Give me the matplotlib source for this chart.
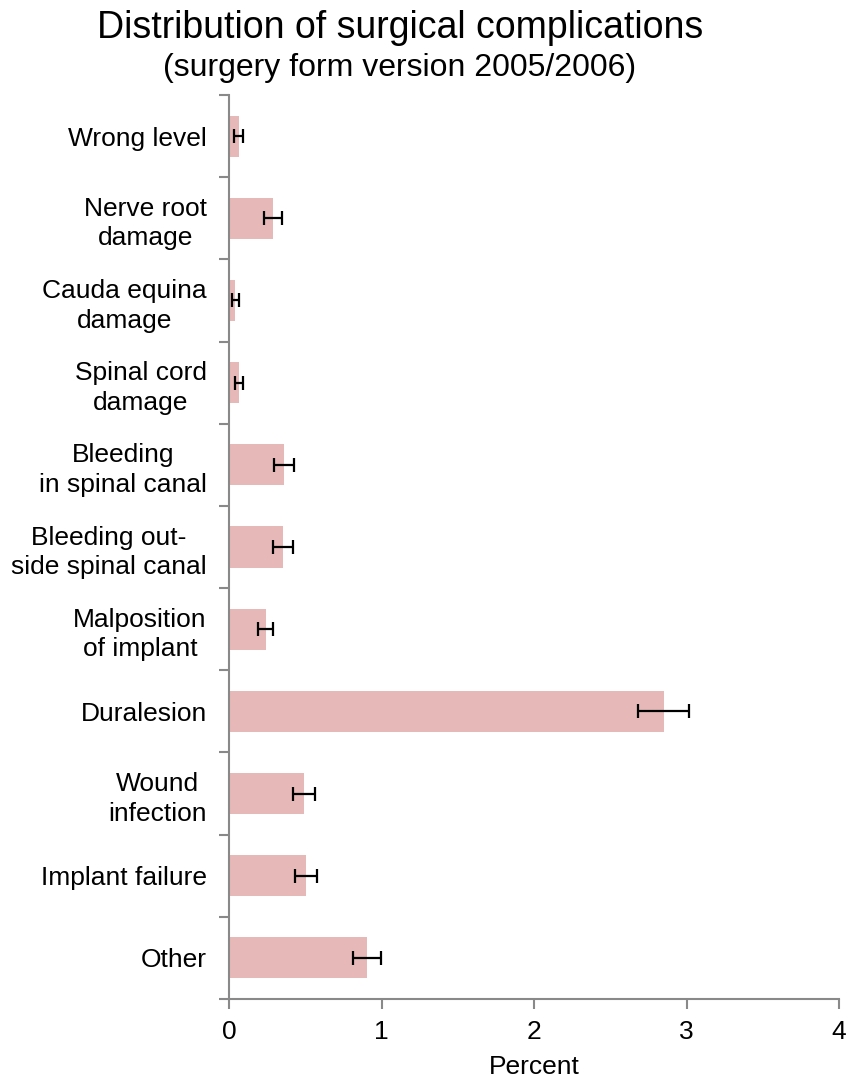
import matplotlib.pyplot as plt
import numpy as np

plt.rcParams['font.family'] = ['Liberation Sans', 'DejaVu Sans']

categories = ['Wrong level', 'Nerve root\ndamage', 'Cauda equina\ndamage', 'Spinal cord\ndamage',
              'Bleeding\nin spinal canal', 'Bleeding out-\nside spinal canal', 'Malposition\nof implant',
              'Duralesion', 'Wound\ninfection', 'Implant failure', 'Other']
percent = [0.065, 0.29, 0.042, 0.064, 0.36, 0.353, 0.24, 2.85, 0.49, 0.505, 0.905]
err = [0.03, 0.058, 0.024, 0.027, 0.065, 0.065, 0.048, 0.165, 0.073, 0.072, 0.093]

fig = plt.figure(figsize=(8.46, 10.84), dpi=100)
ax = fig.add_axes([229/846, 1 - 999/1084, 610/846, 904/1084])

pos = np.arange(len(categories))
ax.barh(pos, percent, height=0.5, color='#e6b9b8')
ax.errorbar(percent, pos, xerr=err, fmt='none', ecolor='black', elinewidth=1.6, capsize=5, capthick=1.6)

ax.set_xlim(0, 4)
ax.set_ylim(len(categories) - 0.5, -0.5)
ax.set_xticks([0, 1, 2, 3, 4])
ax.set_yticks(pos)
ax.set_yticklabels(categories, fontsize=19, ha='right', multialignment='center', linespacing=1.3)
ax.set_yticks(np.arange(len(categories) + 1) - 0.5, minor=True)
ax.tick_params(axis='y', which='major', length=0, pad=16)
ax.tick_params(axis='y', which='minor', length=7, width=1.5, color='#898989')
ax.tick_params(axis='x', labelsize=19, length=7, width=1.5, color='#898989', pad=8)

for s in ['top', 'right']:
    ax.spines[s].set_visible(False)
for s in ['left', 'bottom']:
    ax.spines[s].set_color('#898989')
    ax.spines[s].set_linewidth(1.5)

ax.set_xlabel('Percent', fontsize=19, labelpad=8)

fig.text(400/846, 1 - 28/1084, 'Distribution of surgical complications', fontsize=27, ha='center', va='center')
fig.text(400/846, 1 - 68/1084, '(surgery form version 2005/2006)', fontsize=23, ha='center', va='center')

plt.savefig('out.png', dpi=100)
